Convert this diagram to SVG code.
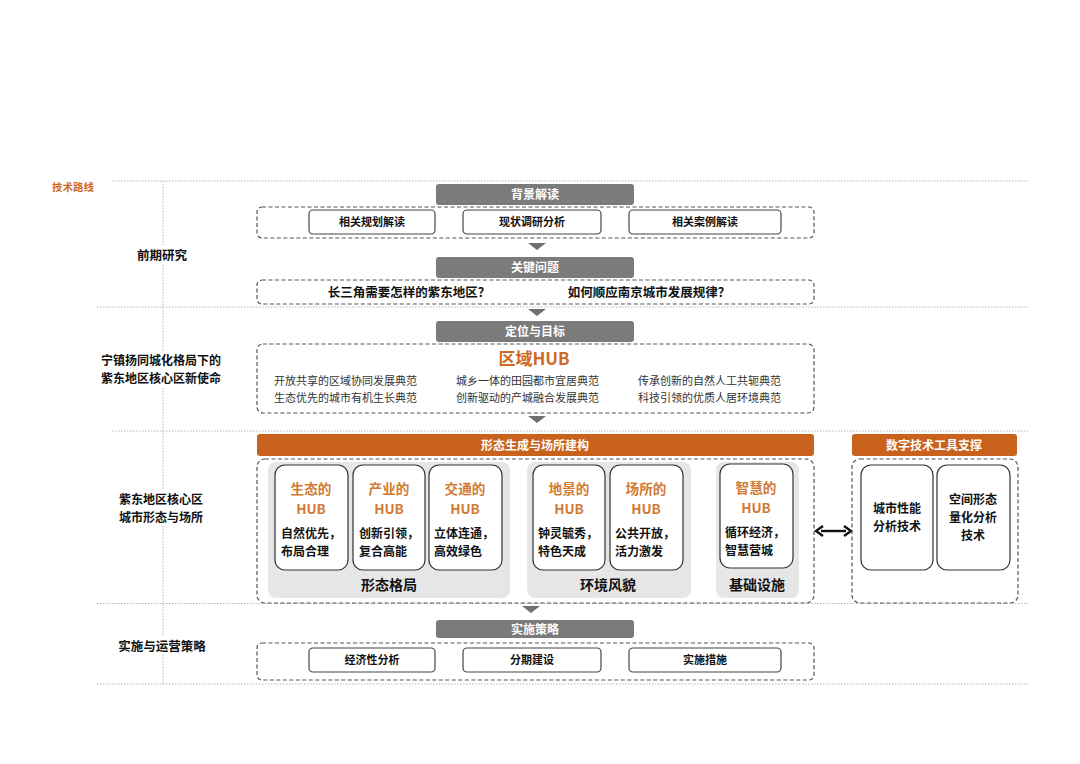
<svg xmlns="http://www.w3.org/2000/svg" width="1080" height="764" viewBox="0 0 1080 764">
<style>
text{font-family:"Noto Sans CJK SC","Liberation Sans",sans-serif;font-weight:bold}
.guide{stroke:#b8b8b8;stroke-width:1;stroke-dasharray:1.5 1.5;fill:none}
.dash{fill:none;stroke:#555;stroke-width:1.2;stroke-dasharray:4 2.5}
.gbar{fill:#7b7b7b}
.obar{fill:#c8621c}
.inner{fill:#fff;stroke:#444;stroke-width:1.2}
.card{fill:#fff;stroke:#333;stroke-width:1.2}
.panel{fill:#e6e6e6}
.tri{fill:#707070}
.wt{fill:#fff;font-size:12px;text-anchor:middle}
.it{fill:#111;font-size:11px;text-anchor:middle}
.lab{fill:#111;font-size:12.5px;text-anchor:middle}
.lab2{fill:#111;font-size:12px;text-anchor:middle}
.ot{fill:#d27a34;font-size:13.6px;text-anchor:middle}
.ct{fill:#111;font-size:12px}
.cc{fill:#111;font-size:12px;text-anchor:middle}
.gt{fill:#333;font-size:11px;font-weight:normal}
</style>
<rect width="1080" height="764" fill="#fff"/>
<g id="guides">
<line class="guide" x1="112" y1="181" x2="1028" y2="181"/>
<line class="guide" x1="97" y1="307" x2="1028" y2="307"/>
<line class="guide" x1="112" y1="431" x2="1028" y2="431"/>
<line class="guide" x1="97" y1="603.5" x2="1028" y2="603.5"/>
<line class="guide" x1="97" y1="684" x2="1028" y2="684"/>
<line class="guide" x1="163" y1="181" x2="163" y2="684"/>
</g>
<g id="row-labels">
<text x="52" y="191" style="fill:#d06a26;font-size:10.5px">技术路线</text>
<rect x="130" y="245" width="66" height="20" fill="#fff"/>
<text class="lab" x="162" y="260">前期研究</text>
<rect x="95" y="351" width="134" height="36" fill="#fff"/>
<text class="lab2" x="161" y="365">宁镇扬同城化格局下的</text>
<text class="lab2" x="161" y="383">紫东地区核心区新使命</text>
<rect x="114" y="490" width="94" height="36" fill="#fff"/>
<text class="lab2" x="161" y="504">紫东地区核心区</text>
<text class="lab2" x="161" y="522">城市形态与场所</text>
<rect x="117" y="637" width="92" height="18" fill="#fff"/>
<text class="lab" x="162" y="651">实施与运营策略</text>
</g>
<g id="connectors">
<polygon class="tri" points="528,243 546,243 537,250"/>
<polygon class="tri" points="528,309 546,309 537,316"/>
<polygon class="tri" points="528,416 546,416 537,423"/>
<polygon class="tri" points="522,606 540,606 531,613"/>
<line x1="821" y1="531" x2="846" y2="531" stroke="#111" stroke-width="2.4"/>
<polyline points="823,526 816,531 823,536" fill="none" stroke="#111" stroke-width="2.4"/>
<polyline points="844,526 851,531 844,536" fill="none" stroke="#111" stroke-width="2.4"/>
</g>
<g id="stage1">
<rect class="gbar" x="436" y="184" width="198" height="21" rx="3"/>
<text class="wt" x="535" y="199">背景解读</text>
<rect class="dash" x="257" y="207" width="557" height="31" rx="5"/>
<rect class="inner" x="309" y="210" width="126" height="24" rx="4"/>
<text class="it" x="372" y="226">相关规划解读</text>
<rect class="inner" x="463" y="210" width="138" height="24" rx="4"/>
<text class="it" x="532" y="226">现状调研分析</text>
<rect class="inner" x="629" y="210" width="152" height="24" rx="4"/>
<text class="it" x="705" y="226">相关案例解读</text>
</g>
<g id="stage2">
<rect class="gbar" x="436" y="257" width="198" height="21" rx="3"/>
<text class="wt" x="535" y="272">关键问题</text>
<rect class="dash" x="257" y="280" width="557" height="24" rx="5"/>
<text class="lab" x="409" y="297">长三角需要怎样的紫东地区？</text>
<text class="lab" x="649" y="297">如何顺应南京城市发展规律？</text>
</g>
<g id="stage3">
<rect class="gbar" x="436" y="321" width="198" height="21" rx="3"/>
<text class="wt" x="535" y="336">定位与目标</text>
<rect class="dash" x="257" y="344" width="557" height="69" rx="6"/>
<text x="534" y="365" style="fill:#cf6a22;font-size:17px;text-anchor:middle">区域HUB</text>
<text class="gt" x="274" y="385">开放共享的区域协同发展典范</text>
<text class="gt" x="274" y="402">生态优先的城市有机生长典范</text>
<text class="gt" x="456" y="385">城乡一体的田园都市宜居典范</text>
<text class="gt" x="456" y="402">创新驱动的产城融合发展典范</text>
<text class="gt" x="638" y="385">传承创新的自然人工共轭典范</text>
<text class="gt" x="638" y="402">科技引领的优质人居环境典范</text>
</g>
<g id="stage4">
<rect class="obar" x="257" y="434" width="557" height="22" rx="3"/>
<text class="wt" x="535" y="450">形态生成与场所建构</text>
<rect class="dash" x="257" y="459" width="557" height="144" rx="8"/>
<rect class="panel" x="268" y="462" width="242" height="136" rx="8"/>
<rect class="panel" x="527" y="462" width="164" height="136" rx="8"/>
<rect class="panel" x="716" y="462" width="83" height="136" rx="8"/>
<text class="lab" x="389" y="590" style="font-size:14px">形态格局</text>
<text class="lab" x="608" y="590" style="font-size:14px">环境风貌</text>
<text class="lab" x="757" y="590" style="font-size:14px">基础设施</text>
</g>
<g id="hub-eco">
<rect class="card" x="275" y="465" width="73" height="105" rx="10"/>
<text class="ot" x="311" y="494">生态的</text><text class="ot" x="311" y="514">HUB</text>
<text class="ct" x="281" y="538">自然优先，</text><text class="ct" x="281" y="556">布局合理</text>
</g>
<g id="hub-ind">
<rect class="card" x="353" y="465" width="72" height="105" rx="10"/>
<text class="ot" x="389" y="494">产业的</text><text class="ot" x="389" y="514">HUB</text>
<text class="ct" x="359" y="538">创新引领，</text><text class="ct" x="359" y="556">复合高能</text>
</g>
<g id="hub-traffic">
<rect class="card" x="429" y="465" width="73" height="105" rx="10"/>
<text class="ot" x="465" y="494">交通的</text><text class="ot" x="465" y="514">HUB</text>
<text class="ct" x="434" y="538">立体连通，</text><text class="ct" x="434" y="556">高效绿色</text>
</g>
<g id="hub-land">
<rect class="card" x="533" y="465" width="72" height="105" rx="10"/>
<text class="ot" x="569" y="494">地景的</text><text class="ot" x="569" y="514">HUB</text>
<text class="ct" x="538" y="538">钟灵毓秀，</text><text class="ct" x="538" y="556">特色天成</text>
</g>
<g id="hub-place">
<rect class="card" x="610" y="465" width="73" height="105" rx="10"/>
<text class="ot" x="646" y="494">场所的</text><text class="ot" x="646" y="514">HUB</text>
<text class="ct" x="615" y="538">公共开放，</text><text class="ct" x="615" y="556">活力激发</text>
</g>
<g id="hub-smart">
<rect class="card" x="720" y="464" width="73" height="104" rx="10"/>
<text class="ot" x="756" y="493">智慧的</text><text class="ot" x="756" y="513">HUB</text>
<text class="ct" x="725" y="537">循环经济，</text><text class="ct" x="725" y="555">智慧营城</text>
</g>
<g id="digital">
<rect class="obar" x="852" y="434" width="165" height="22" rx="3"/>
<text class="wt" x="934" y="450">数字技术工具支撑</text>
<rect class="dash" x="852" y="459" width="166" height="144" rx="8"/>
<rect class="card" x="861" y="465" width="72" height="105" rx="10"/>
<text class="cc" x="897" y="513">城市性能</text><text class="cc" x="897" y="531">分析技术</text>
<rect class="card" x="937" y="465" width="73" height="105" rx="10"/>
<text class="cc" x="973" y="504">空间形态</text><text class="cc" x="973" y="522">量化分析</text><text class="cc" x="973" y="540">技术</text>
</g>
<g id="stage5">
<rect class="gbar" x="436" y="620" width="198" height="18" rx="3"/>
<text class="wt" x="535" y="634">实施策略</text>
<rect class="dash" x="257" y="643" width="557" height="37" rx="5"/>
<rect class="inner" x="309" y="648" width="126" height="24" rx="4"/>
<text class="it" x="372" y="664">经济性分析</text>
<rect class="inner" x="463" y="648" width="138" height="24" rx="4"/>
<text class="it" x="532" y="664">分期建设</text>
<rect class="inner" x="629" y="648" width="152" height="24" rx="4"/>
<text class="it" x="705" y="664">实施措施</text>
</g>
</svg>
